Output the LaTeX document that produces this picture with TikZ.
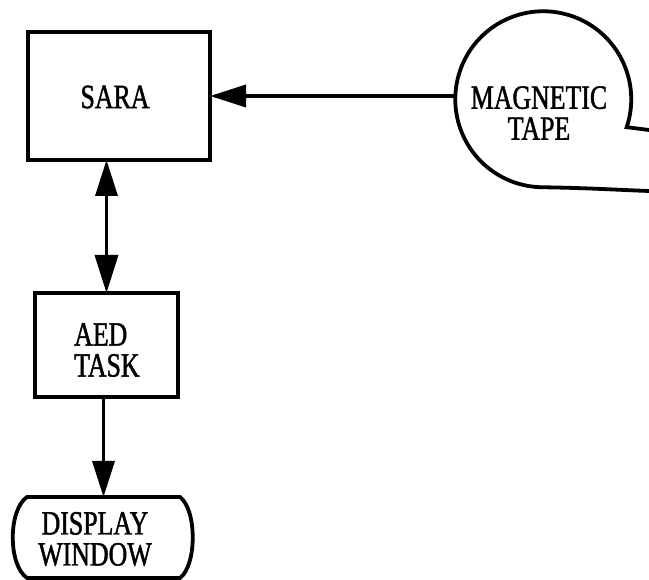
\documentclass[tikz,border=0pt]{standalone}
\usepackage{fontspec}
\setmainfont[FakeStretch=0.76,FakeBold=1.3]{Liberation Serif}
\usetikzlibrary{arrows.meta,calc}
\tikzset{
  boxline/.style={line width=3.8pt, outer sep=0pt},
  blk/.style={boxline, draw, rectangle, inner sep=0pt},
  lbl/.style={font=\fontsize{34}{31}\selectfont, align=center, inner sep=0pt},
  arr/.style={line width=3.5pt, -{Triangle[length=36pt,width=22pt]}},
  darr/.style={line width=3.5pt, {Triangle[length=36pt,width=22pt]}-{Triangle[length=38pt,width=23pt]}},
}
\begin{document}
\begin{tikzpicture}[x=1pt,y=-1pt]
\useasboundingbox (0,0) rectangle (649,580);
% SARA
\node[blk, minimum width=182pt, minimum height=128pt, lbl] (sara) at (119,96) {};
\node[lbl] (saratext) at (115,97) {SARA};
% AED TASK
\node[blk, minimum width=143pt, minimum height=104pt] (aed) at (106.5,345) {};
\node[lbl, align=left, anchor=west] (aedtext) at (74,350) {AED\\TASK};
% DISPLAY WINDOW
\node[rectangle, outer sep=0pt, inner sep=0pt, minimum width=153pt, minimum height=81pt] (disp) at (103.5,537.5) {};
\draw[boxline, line join=miter]
  (disp.north west) -- (disp.north east)
  .. controls ($(disp.north east)+(17,13)$) and ($(disp.south east)+(17,-13)$) .. (disp.south east)
  -- (disp.south west)
  .. controls ($(disp.south west)+(-19,-13)$) and ($(disp.north west)+(-19,13)$) .. (disp.north west) -- cycle;
\node[lbl] (disptext) at (95,539) {DISPLAY\\WINDOW};
% MAGNETIC TAPE
\node[circle, outer sep=0pt, inner sep=0pt, minimum size=176pt] (tape) at (543,100) {};
\draw[boxline]
  (649,130) -- (tape.-18.5) arc[start angle=-18.5, end angle=270, radius=88pt]
  .. controls (590,188) and (620,190) .. (649,191);
\node[lbl] (tapetext) at (539,113) {MAGNETIC\\TAPE};
% connectors
\draw[arr] (sara.east -| tape.west) -- (sara.east);
\draw[darr] (sara.south -| aed.north) -- (aed.north);
\draw[arr] (aed.south -| disp.north) -- (disp.north);
\end{tikzpicture}
\end{document}
